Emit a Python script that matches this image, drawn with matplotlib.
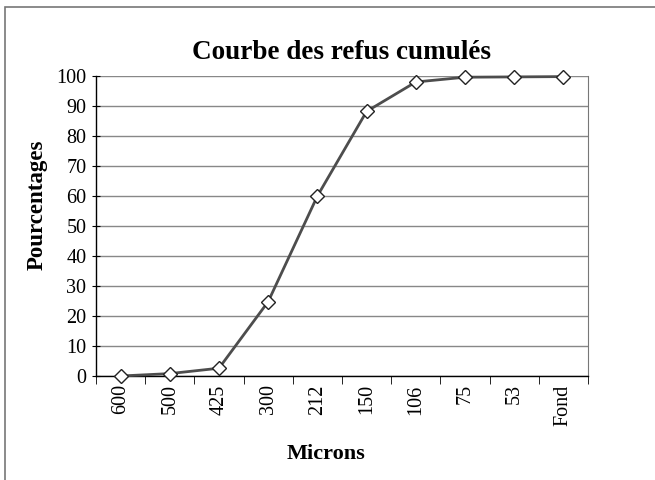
import matplotlib
matplotlib.use("Agg")
import matplotlib.pyplot as plt
from matplotlib.patches import Rectangle

categories = ["600", "500", "425", "300", "212", "150", "106", "75", "53", "Fond"]
values = [0.0, 0.8, 2.6, 24.8, 60.0, 88.2, 98.0, 99.6, 99.7, 99.8]
yticks = [0, 10, 20, 30, 40, 50, 60, 70, 80, 90, 100]

plt.rcParams['font.family'] = ['Liberation Serif', 'DejaVu Serif']

fig = plt.figure(figsize=(6.55, 4.8), dpi=100)
ax = fig.add_axes([96/655, 1-376/480, (588-96)/655, 300/480])

x = list(range(len(categories)))
ax.plot(x, values, color='#4d4d4d', lw=2.0, marker='D', markersize=7.5,
        markerfacecolor='white', markeredgecolor='#222222', markeredgewidth=1.0,
        zorder=3, clip_on=False)

ax.set_xlim(-0.5, len(categories) - 0.5)
ax.set_ylim(0, 100)
ax.set_yticks(yticks)
ax.set_yticklabels([str(t) for t in yticks], fontsize=14.5)
ax.set_xticks(x)
ax.set_xticklabels(categories, rotation=90, fontsize=14.5)
ax.tick_params(axis='x', length=0, pad=6)
ax.set_xticks([i - 0.5 for i in range(len(categories) + 1)], minor=True)
ax.tick_params(axis='x', which='minor', length=6, direction='out', color='black')
ax.tick_params(axis='y', length=6, direction='inout', color='black', pad=4)
ax.yaxis.grid(True, color='#888888', lw=1.0)
ax.set_axisbelow(True)

for s in ['left', 'bottom']:
    ax.spines[s].set_color('black')
    ax.spines[s].set_linewidth(1.0)
ax.spines['right'].set_color('#777777')
ax.spines['top'].set_visible(False)

ax.set_title("Courbe des refus cumulés", fontsize=19.5, fontweight='bold', pad=12)
ax.set_xlabel("Microns", fontsize=16, fontweight='bold', labelpad=13, x=0.467)
ax.set_ylabel("Pourcentages", fontsize=16.5, fontweight='bold', labelpad=6, y=0.57)

fig.patches.append(Rectangle((5/655, -0.1), 1.2, 1 - 7/480 + 0.1,
                             transform=fig.transFigure, fill=False,
                             edgecolor='#777777', lw=1.2))

fig.savefig("out.png", dpi=100)
